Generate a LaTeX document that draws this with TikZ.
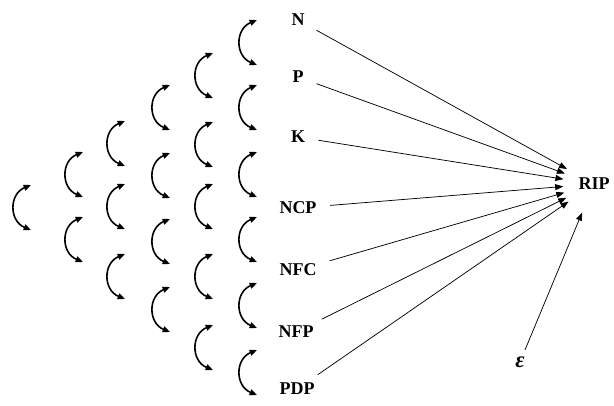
\documentclass[tikz,border=0pt]{standalone}
\usepackage{fontspec}
\setmainfont{Liberation Serif}
\usetikzlibrary{arrows.meta}
\begin{document}
\begin{tikzpicture}[x=0.75pt,y=-0.75pt,
  var/.style={font=\fontsize{13.5}{16}\selectfont\bfseries, inner sep=1pt},
  effect/.style={-{Triangle[length=6pt,width=4.5pt]}, line width=0.55pt, shorten <=9pt},
  corr/.style={{Triangle[length=5.5pt,width=4.5pt]}-{Triangle[length=5.5pt,width=4.5pt]}, line width=1.2pt}]
\useasboundingbox (0,0) rectangle (614,405);

% predictors
\node[var] (N)   at (298,20)  {N};
\node[var] (P)   at (298,77)  {P};
\node[var] (K)   at (298,137) {K};
\node[var] (NCP) at (298,208) {NCP};
\node[var] (NFC) at (298,270) {NFC};
\node[var] (NFP) at (296,332) {NFP};
\node[var] (PDP) at (297,389) {PDP};

% response and error term
\node[var, circle, minimum size=46pt] (RIP) at (594,184) {RIP};
\node[var, font=\fontsize{17}{18}\selectfont\bfseries\itshape] (eps) at (520,362) {ε};

% direct effects
\foreach \v in {N,P,K,NCP,NFC,NFP,PDP}
  \draw[effect] (\v) -- (RIP);
\draw[effect, shorten <=4pt] (eps) -- (RIP);

% correlations among predictors
\newcommand{\corrarc}[2]{%
  \draw[corr] (#1,#2) .. controls +(-22,9) and +(-22,-9) .. (#1,#2+45);}
\foreach \t in {185} {\corrarc{31}{\t}}
\foreach \t in {152,217} {\corrarc{83}{\t}}
\foreach \t in {121,184,254} {\corrarc{125}{\t}}
\foreach \t in {85,153,219,287} {\corrarc{170}{\t}}
\foreach \t in {53,122,184,254,325} {\corrarc{213}{\t}}
\foreach \t in {20,85,152,217,283,350} {\corrarc{257}{\t}}
\end{tikzpicture}
\end{document}
